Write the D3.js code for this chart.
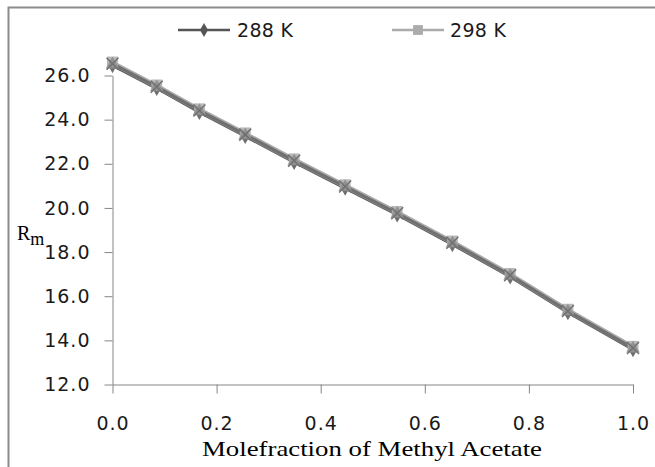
<!DOCTYPE html>
<html lang="en">
<head>
  <meta charset="UTF-8">
  <title>Rm vs mole fraction of methyl acetate</title>
  <script src="https://d3js.org/d3.v7.min.js"></script>
  <style>
    body { margin: 0; background: #fff; }
    svg { display: block; }
    .tick text { font-family: 'DejaVu Sans', sans-serif; font-size: 19px; fill: #1a1a1a; letter-spacing: 1px; }
    .legend text { font-family: 'DejaVu Sans', sans-serif; font-size: 19px; fill: #1a1a1a; letter-spacing: 0.3px; }
    .title { font-family: 'Liberation Serif', serif; fill: #000; }
  </style>
</head>
<body>
  <svg id="chart" width="655" height="467"></svg>
  <script>
    const moleFraction = [0, 0.085, 0.167, 0.255, 0.349, 0.447, 0.547, 0.653, 0.764, 0.875, 1.0];
    const rm288 = [26.46, 25.42, 24.34, 23.25, 22.07, 20.90, 19.69, 18.35, 16.88, 15.26, 13.59];
    const rm298 = [26.61, 25.57, 24.49, 23.40, 22.22, 21.05, 19.84, 18.50, 17.03, 15.41, 13.73];
    const rm308 = [26.50, 25.46, 24.38, 23.29, 22.11, 20.94, 19.73, 18.39, 16.92, 15.30, 13.63];
    const rm318 = [26.53, 25.49, 24.41, 23.32, 22.14, 20.97, 19.76, 18.42, 16.95, 15.33, 13.65];
    const xTicks = [0, 0.2, 0.4, 0.6, 0.8, 1.0];
    const yTicks = [12, 14, 16, 18, 20, 22, 24, 26];

    const series = [
      { name: "288 K", values: rm288, color: "#555555", symbol: d3.symbolDiamond, size: 70, legend: true },
      { name: "298 K", values: rm298, color: "#ababab", symbol: d3.symbolSquare, size: 120, legend: true },
      { name: "308 K", values: rm308, color: "#8e8e8e", symbol: d3.symbolTriangle, size: 80, legend: false },
      { name: "318 K", values: rm318, color: "#707070", symbol: null, size: 0, legend: false }
    ];

    const svg = d3.select("#chart");

    // outer frame (only left and top edges show in the picture)
    svg.append("rect").attr("x", 8.5).attr("y", 7.5).attr("width", 700).attr("height", 500)
      .attr("fill", "none").attr("stroke", "#8c8c8c").attr("stroke-width", 2);

    const x = d3.scaleLinear().domain([0, 1]).range([112.5, 633]);
    const y = d3.scaleLinear().domain([12, 26]).range([384.5, 75.5]);

    const xAxis = svg.append("g").attr("transform", "translate(0,384.5)")
      .call(d3.axisBottom(x).tickValues(xTicks).tickFormat(d3.format(".1f")).tickSize(9).tickSizeOuter(0));
    xAxis.selectAll("text").attr("y", 39).attr("dy", "0.35em");

    const yAxis = svg.append("g").attr("transform", "translate(112.5,0)")
      .call(d3.axisLeft(y).tickValues(yTicks).tickFormat(d3.format(".1f")).tickSize(8).tickSizeOuter(0));
    yAxis.selectAll("text").attr("x", -22);

    svg.selectAll(".domain, .tick line").attr("stroke", "#868686");

    const line = d3.line().x((d, i) => x(moleFraction[i])).y(d => y(d));

    series.forEach(s => {
      svg.append("path").datum(s.values)
        .attr("d", line).attr("fill", "none")
        .attr("stroke", s.color).attr("stroke-width", 3);
    });

    series.forEach(s => {
      const g = svg.append("g");
      s.values.forEach((v, i) => {
        const cx = x(moleFraction[i]), cy = y(v);
        if (!s.symbol) {
          // X marker
          g.append("path")
            .attr("d", `M${cx - 6},${cy - 6}L${cx + 6},${cy + 6}M${cx - 6},${cy + 6}L${cx + 6},${cy - 6}`)
            .attr("stroke", s.color).attr("stroke-width", 1.5);
        } else {
          g.append("path")
            .attr("d", d3.symbol().type(s.symbol).size(s.size)())
            .attr("transform", `translate(${cx},${cy})`)
            .attr("fill", s.color).attr("fill-opacity", 0.85);
        }
      });
    });

    // legend
    const legendPos = [{ x: 178, tx: 237 }, { x: 392, tx: 450 }];
    const legend = svg.append("g").attr("class", "legend");
    series.filter(s => s.legend).forEach((s, i) => {
      const p = legendPos[i];
      legend.append("line").attr("x1", p.x).attr("x2", p.x + 52).attr("y1", 30).attr("y2", 30)
        .attr("stroke", s.color).attr("stroke-width", 2.5);
      legend.append("path").attr("d", d3.symbol().type(s.symbol).size(s.size * 0.8)())
        .attr("transform", `translate(${p.x + 26},30)`).attr("fill", s.color);
      legend.append("text").attr("x", p.tx).attr("y", 30).attr("dy", "0.36em").text(s.name);
    });

    // axis titles
    svg.append("text").attr("class", "title").attr("x", 372).attr("y", 456)
      .attr("text-anchor", "middle").attr("font-size", 21)
      .attr("textLength", 340).attr("lengthAdjust", "spacingAndGlyphs")
      .text("Molefraction of Methyl Acetate");

    const yt = svg.append("text").attr("class", "title").attr("x", 17).attr("y", 240).attr("font-size", 20);
    yt.append("tspan").text("R");
    yt.append("tspan").attr("dy", 5).attr("font-size", 18).text("m");
  </script>
</body>
</html>
